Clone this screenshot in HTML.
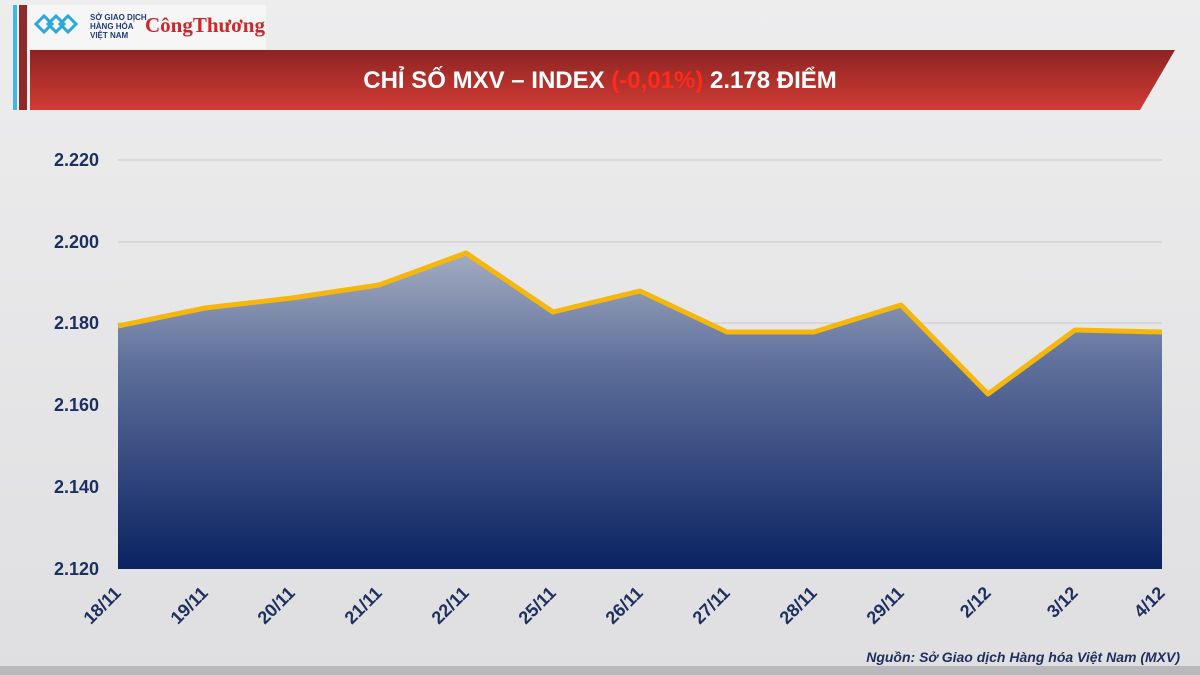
<!DOCTYPE html>
<html><head><meta charset="utf-8"><style>
body{margin:0;width:1200px;height:675px;overflow:hidden;background:#e9eaec;font-family:"Liberation Sans",sans-serif}
</style></head><body>
<svg width="1200" height="675" xmlns="http://www.w3.org/2000/svg" style="position:absolute;left:0;top:0">
<defs>
<linearGradient id="bg" x1="0" y1="0" x2="0" y2="1"><stop offset="0" stop-color="#ededee"/><stop offset="1" stop-color="#dfdfe1"/></linearGradient>
<linearGradient id="fill" x1="0" y1="0" x2="0" y2="1"><stop offset="0" stop-color="#a3acc0"/><stop offset="0.35" stop-color="#5f709c"/><stop offset="1" stop-color="#0a2262"/></linearGradient>
<linearGradient id="red" x1="0" y1="0" x2="0" y2="1"><stop offset="0" stop-color="#8c2422"/><stop offset="1" stop-color="#d23b35"/></linearGradient>
</defs>
<rect width="1200" height="675" fill="url(#bg)"/>
<rect x="0" y="666" width="1200" height="9" fill="#b9b9bb"/>
<rect x="13" y="5" width="4" height="105" fill="#3cb7e6"/>
<rect x="19" y="5" width="8" height="105" fill="#8e2a2a"/>
<rect x="28" y="5" width="238" height="44" fill="#f6f6f6"/>
<g fill="none" stroke="#2aa7dd" stroke-width="3">
<path d="M36 24 l8 -8 l8 8 l-8 8z M48 24 l8 -8 l8 8 l-8 8z M60 24 l8 -8 l8 8 l-8 8z"/>
</g>
<text x="90" y="20" font-size="8" fill="#1f3c7a" font-weight="bold">SỞ GIAO DỊCH</text>
<text x="90" y="29" font-size="8" fill="#1f3c7a" font-weight="bold">HÀNG HÓA</text>
<text x="90" y="38" font-size="8" fill="#1f3c7a" font-weight="bold">VIỆT NAM</text>
<text x="145" y="32" font-size="21" fill="#d0262a" font-family="Liberation Serif" font-weight="bold">CôngThương</text>
<polygon points="30,50 1175,50 1140,110 30,110" fill="url(#red)"/>
<text x="600" y="88" font-size="24" font-weight="bold" fill="#fff" text-anchor="middle">CHỈ SỐ MXV – INDEX <tspan fill="#ff2a1a">(-0,01%)</tspan> 2.178 ĐIỂM</text>
<g stroke="#c8c9cc" stroke-width="1">
<line x1="118" y1="160" x2="1162" y2="160"/><line x1="118" y1="242" x2="1162" y2="242"/><line x1="118" y1="323" x2="1162" y2="323"/><line x1="118" y1="405" x2="1162" y2="405"/><line x1="118" y1="487" x2="1162" y2="487"/>
</g>
<g font-size="18" font-weight="bold" fill="#1c2f5e" text-anchor="end">
<text x="99" y="166">2.220</text><text x="99" y="248">2.200</text><text x="99" y="329">2.180</text><text x="99" y="411">2.160</text><text x="99" y="493">2.140</text><text x="99" y="575">2.120</text>
</g>
<polygon fill="url(#fill)" points="118,326 205,308 292,298 379,285 466,253 553,312 640,291 727,332 814,332 901,305 988,394 1075,330 1162,332 1162,569 118,569"/>
<polyline fill="none" stroke="#f5b70c" stroke-width="5" stroke-linejoin="round" points="118,326 205,308 292,298 379,285 466,253 553,312 640,291 727,332 814,332 901,305 988,394 1075,330 1162,332"/>
<g font-size="18" font-weight="bold" fill="#1c2f5e" text-anchor="end">
<text transform="translate(122,594) rotate(-45)">18/11</text>
<text transform="translate(209,594) rotate(-45)">19/11</text>
<text transform="translate(296,594) rotate(-45)">20/11</text>
<text transform="translate(383,594) rotate(-45)">21/11</text>
<text transform="translate(470,594) rotate(-45)">22/11</text>
<text transform="translate(557,594) rotate(-45)">25/11</text>
<text transform="translate(644,594) rotate(-45)">26/11</text>
<text transform="translate(731,594) rotate(-45)">27/11</text>
<text transform="translate(818,594) rotate(-45)">28/11</text>
<text transform="translate(905,594) rotate(-45)">29/11</text>
<text transform="translate(992,594) rotate(-45)">2/12</text>
<text transform="translate(1079,594) rotate(-45)">3/12</text>
<text transform="translate(1166,594) rotate(-45)">4/12</text>
</g>
<text x="1180" y="662" font-size="14" font-weight="bold" font-style="italic" fill="#1c2f5e" text-anchor="end">Nguồn: Sở Giao dịch Hàng hóa Việt Nam (MXV)</text>
</svg>
</body></html>
